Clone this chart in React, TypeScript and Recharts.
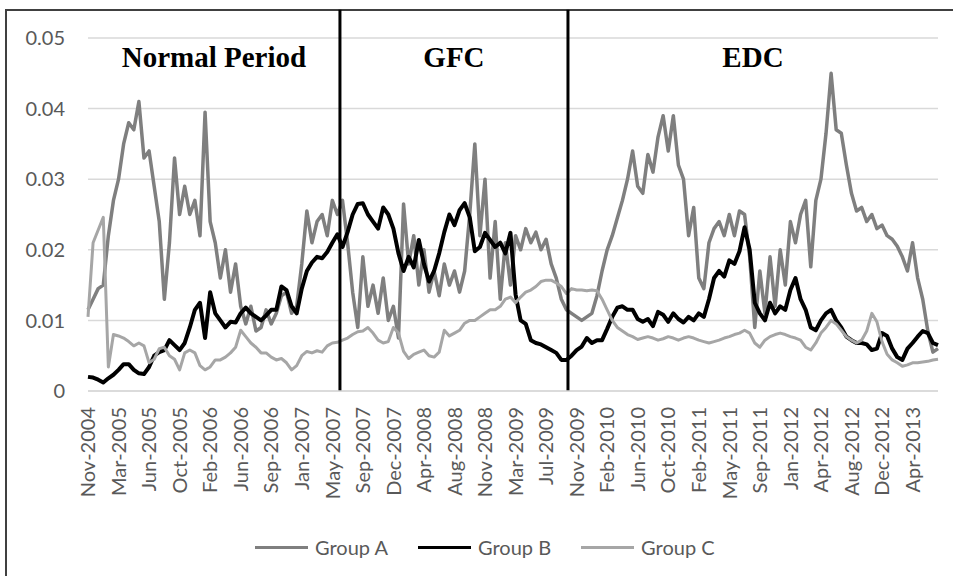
import React from 'react';
import { LineChart, Line, XAxis, YAxis, CartesianGrid, ReferenceLine, ReferenceArea } from 'recharts';

// ---- data ----
const tickLabels = [
  'Nov-2004', 'Mar-2005', 'Jun-2005', 'Oct-2005', 'Feb-2006', 'Jun-2006', 'Sep-2006', 'Jan-2007',
  'May-2007', 'Sep-2007', 'Dec-2007', 'Apr-2008', 'Aug-2008', 'Nov-2008', 'Mar-2009', 'Jul-2009',
  'Nov-2009', 'Feb-2010', 'Jun-2010', 'Oct-2010', 'Feb-2011', 'May-2011', 'Sep-2011', 'Jan-2012',
  'Apr-2012', 'Aug-2012', 'Dec-2012', 'Apr-2013',
];
const POINTS_PER_TICK = 6;

const groupA = [
  0.0115, 0.013, 0.0145, 0.015, 0.022, 0.027, 0.030, 0.035, 0.038, 0.037,
  0.041, 0.033, 0.034, 0.029, 0.024, 0.013, 0.021, 0.033, 0.025, 0.029,
  0.025, 0.027, 0.022, 0.0395, 0.024, 0.021, 0.016, 0.020, 0.014, 0.018,
  0.012, 0.0095, 0.012, 0.0085, 0.009, 0.0115, 0.0095, 0.011, 0.0135, 0.014,
  0.011, 0.012, 0.018, 0.0255, 0.021, 0.024, 0.025, 0.022, 0.027, 0.025,
  0.027, 0.021, 0.014, 0.009, 0.019, 0.012, 0.015, 0.011, 0.016, 0.010,
  0.012, 0.0075, 0.0265, 0.018, 0.022, 0.015, 0.020, 0.014, 0.017, 0.0135,
  0.018, 0.015, 0.017, 0.014, 0.017, 0.025, 0.035, 0.022, 0.030, 0.016,
  0.024, 0.013, 0.021, 0.015, 0.022, 0.020, 0.023, 0.021, 0.0225, 0.020,
  0.0215, 0.018, 0.016, 0.013, 0.0115, 0.011, 0.0105, 0.010, 0.0105, 0.011,
  0.0135, 0.017, 0.020, 0.022, 0.0245, 0.027, 0.030, 0.034, 0.029, 0.028,
  0.0335, 0.031, 0.036, 0.039, 0.034, 0.039, 0.032, 0.030, 0.022, 0.026,
  0.016, 0.0145, 0.021, 0.023, 0.024, 0.022, 0.025, 0.022, 0.0255, 0.025,
  0.019, 0.009, 0.017, 0.011, 0.019, 0.012, 0.020, 0.015, 0.024, 0.021,
  0.025, 0.027, 0.0176, 0.027, 0.030, 0.0365, 0.045, 0.037, 0.0365, 0.032,
  0.028, 0.0255, 0.026, 0.024, 0.025, 0.023, 0.0235, 0.022, 0.0215, 0.0205,
  0.019, 0.017, 0.021, 0.016, 0.013, 0.0085, 0.0055, 0.006,
];

const groupB = [
  0.002, 0.0019, 0.0016, 0.0012, 0.0018, 0.0023, 0.003, 0.0038, 0.0038, 0.003,
  0.0025, 0.0024, 0.0034, 0.005, 0.0055, 0.0058, 0.0072, 0.0065, 0.0058, 0.0068,
  0.009, 0.0115, 0.0125, 0.0075, 0.014, 0.011, 0.010, 0.009, 0.0098, 0.0097,
  0.011, 0.0118, 0.011, 0.0105, 0.010, 0.0107, 0.0115, 0.0115, 0.0148, 0.0143,
  0.012, 0.011, 0.0145, 0.017, 0.0182, 0.019, 0.0188, 0.0197, 0.021, 0.0222,
  0.0204, 0.0225, 0.025, 0.0265, 0.0266, 0.025, 0.024, 0.023, 0.026, 0.025,
  0.023, 0.0195, 0.017, 0.019, 0.0175, 0.0214, 0.018, 0.0155, 0.017, 0.0195,
  0.0225, 0.025, 0.0235, 0.0256, 0.0266, 0.0246, 0.0198, 0.0204, 0.0224, 0.0214,
  0.0204, 0.021, 0.0195, 0.0224, 0.0137, 0.010, 0.0095, 0.0072, 0.0068, 0.0066,
  0.0062, 0.0058, 0.0054, 0.0044, 0.0044, 0.005, 0.0058, 0.0063, 0.0075, 0.0068,
  0.0072, 0.0072, 0.0088, 0.0105, 0.0118, 0.012, 0.0115, 0.0115, 0.0102, 0.0098,
  0.0102, 0.0092, 0.0112, 0.0108, 0.0098, 0.011, 0.0102, 0.0097, 0.0105, 0.010,
  0.011, 0.0105, 0.013, 0.016, 0.017, 0.0162, 0.0185, 0.018, 0.0198, 0.0232,
  0.020, 0.0125, 0.011, 0.010, 0.0125, 0.011, 0.012, 0.0115, 0.0143, 0.016,
  0.013, 0.0115, 0.009, 0.0086, 0.010, 0.011, 0.0115, 0.010, 0.009, 0.0077,
  0.0072, 0.0068, 0.0068, 0.0066, 0.0058, 0.006, 0.0082, 0.0078, 0.006, 0.0048,
  0.0044, 0.006, 0.0068, 0.0077, 0.0085, 0.0082, 0.0068, 0.0065,
];

const groupC = [
  0.0105, 0.021, 0.0228, 0.0246, 0.0034, 0.008, 0.0078, 0.0075, 0.007, 0.0064,
  0.0068, 0.0064, 0.004, 0.0045, 0.006, 0.0062, 0.005, 0.0045, 0.003, 0.0054,
  0.0058, 0.0054, 0.0036, 0.003, 0.0034, 0.0044, 0.0044, 0.0048, 0.0054, 0.0062,
  0.0086, 0.0077, 0.0068, 0.0062, 0.0054, 0.0054, 0.0048, 0.0044, 0.0046, 0.004,
  0.003, 0.0036, 0.005, 0.0056, 0.0054, 0.0057, 0.0055, 0.0064, 0.0068, 0.0069,
  0.0072, 0.0075, 0.008, 0.0084, 0.0085, 0.009, 0.0082, 0.0072, 0.0068, 0.007,
  0.009, 0.0082, 0.0056, 0.0046, 0.0052, 0.0055, 0.0058, 0.005, 0.0048, 0.0055,
  0.0086, 0.0078, 0.0082, 0.0086, 0.0096, 0.010, 0.010, 0.0105, 0.011, 0.0115,
  0.0115, 0.012, 0.013, 0.0133, 0.0125, 0.0133, 0.014, 0.0143, 0.0148, 0.0155,
  0.0157, 0.0157, 0.0153, 0.0148, 0.0138, 0.0145, 0.0143, 0.0143, 0.0142, 0.0143,
  0.0142, 0.013, 0.0115, 0.010, 0.009, 0.0085, 0.008, 0.0077, 0.0073, 0.0075,
  0.0077, 0.0075, 0.0072, 0.0074, 0.0077, 0.0075, 0.0072, 0.0075, 0.0077, 0.0075,
  0.0072, 0.007, 0.0068, 0.007, 0.0072, 0.0075, 0.0077, 0.008, 0.0082, 0.0086,
  0.0082, 0.0068, 0.0062, 0.0072, 0.0077, 0.008, 0.0082, 0.008, 0.0077, 0.0075,
  0.0072, 0.0062, 0.0058, 0.0068, 0.0082, 0.009, 0.010, 0.0095, 0.0086, 0.0077,
  0.0072, 0.0068, 0.0072, 0.0085, 0.011, 0.0098, 0.007, 0.0052, 0.0044, 0.004,
  0.0035, 0.0037, 0.004, 0.004, 0.0041, 0.0042, 0.0044, 0.0045,
];

const yTicks = [0, 0.01, 0.02, 0.03, 0.04, 0.05];

// period boundaries, in data-point index units
const periodBreaks = [49.5, 94.3];
const periodNames = ['Normal Period', 'GFC', 'EDC'];

// ---- styling config ----
const seriesStyle = [
  { key: 'a', name: 'Group A', color: '#7f7f7f', width: 3.5 },
  { key: 'b', name: 'Group B', color: '#000000', width: 4 },
  { key: 'c', name: 'Group C', color: '#a6a6a6', width: 3 },
];

const FONT = 'Lato, "Open Sans", sans-serif';
const TEXT_COLOR = '#595959';

const data = groupA.map((a, i) => ({ idx: i, a, b: groupB[i], c: groupC[i] }));
const lastIdx = groupA.length - 1;
const xTicks = tickLabels.map((_, k) => k * POINTS_PER_TICK);
const periodBounds = [0, ...periodBreaks, lastIdx];

const XTick = (props: any) => {
  const { x, y, payload } = props;
  const label = tickLabels[Math.round(payload.value / POINTS_PER_TICK)] ?? '';
  return (
    <text
      transform={`translate(${x},${y + 16}) rotate(-90)`}
      textAnchor="end"
      dy="0.36em"
      fontSize={20}
      fontFamily={FONT}
      fill={TEXT_COLOR}
    >
      {label}
    </text>
  );
};

const periodLabel = (name: string) => (props: any) => {
  const vb = props.viewBox || {};
  return (
    <text
      x={vb.x + vb.width / 2}
      y={vb.y + 29}
      textAnchor="middle"
      fontFamily='"Liberation Serif", "Times New Roman", serif'
      fontWeight="bold"
      fontSize={29}
      fill="#000"
    >
      {name}
    </text>
  );
};

export default function App() {
  return (
    <div
      style={{
        position: 'absolute',
        left: 0,
        top: 0,
        width: 953,
        height: 576,
        overflow: 'hidden',
        background: '#fff',
      }}
    >
      <div
        style={{
          position: 'absolute',
          left: 5,
          top: 9,
          width: 1000,
          height: 700,
          border: '2px solid #404040',
          boxSizing: 'border-box',
        }}
      />
      <div style={{ position: 'absolute', left: 0, top: 0 }}>
        <LineChart
          width={953}
          height={576}
          data={data}
          margin={{ top: 38, right: 15, bottom: 65, left: 0 }}
        >
          <CartesianGrid horizontal vertical={false} stroke="#d9d9d9" strokeWidth={1.5} />
          <XAxis
            dataKey="idx"
            type="number"
            domain={[0, lastIdx]}
            ticks={xTicks}
            interval={0}
            tick={<XTick />}
            tickSize={0}
            tickMargin={0}
            height={120}
            axisLine={{ stroke: '#d9d9d9', strokeWidth: 1.5 }}
            tickLine={false}
          />
          <YAxis
            domain={[0, 0.05]}
            ticks={yTicks}
            width={88}
            tickSize={0}
            tickMargin={23}
            axisLine={false}
            tickLine={false}
            tickFormatter={(v: number) => (v === 0 ? '0' : v.toFixed(2))}
            tick={{ fill: TEXT_COLOR, fontSize: 20, fontFamily: FONT }}
          />
          {periodNames.map((name, k) => (
            <ReferenceArea
              key={name}
              x1={periodBounds[k]}
              x2={periodBounds[k + 1]}
              y1={0}
              y2={0.05}
              fill="none"
              fillOpacity={0}
              stroke="none"
              ifOverflow="visible"
              label={periodLabel(name)}
            />
          ))}
          {seriesStyle.map((s) => (
            <Line
              key={s.key}
              dataKey={s.key}
              name={s.name}
              type="linear"
              stroke={s.color}
              strokeWidth={s.width}
              strokeLinejoin="round"
              dot={false}
              activeDot={false}
              isAnimationActive={false}
            />
          ))}
          {periodBreaks.map((b) => (
            <ReferenceLine
              key={b}
              segment={[
                { x: b, y: 0 },
                { x: b, y: 0.054 },
              ]}
              stroke="#000"
              strokeWidth={3}
              ifOverflow="visible"
            />
          ))}
        </LineChart>
      </div>
      <div
        style={{
          position: 'absolute',
          left: 255,
          top: 532,
          height: 30,
          display: 'flex',
          alignItems: 'center',
          fontFamily: FONT,
          fontSize: 20,
          color: TEXT_COLOR,
          whiteSpace: 'nowrap',
        }}
      >
        {seriesStyle.map((s) => (
          <div key={s.key} style={{ display: 'flex', alignItems: 'center', marginRight: 30 }}>
            <span
              style={{
                display: 'inline-block',
                width: 53,
                height: 3,
                background: s.color,
                marginRight: 7,
              }}
            />
            <span>{s.name}</span>
          </div>
        ))}
      </div>
    </div>
  );
}
